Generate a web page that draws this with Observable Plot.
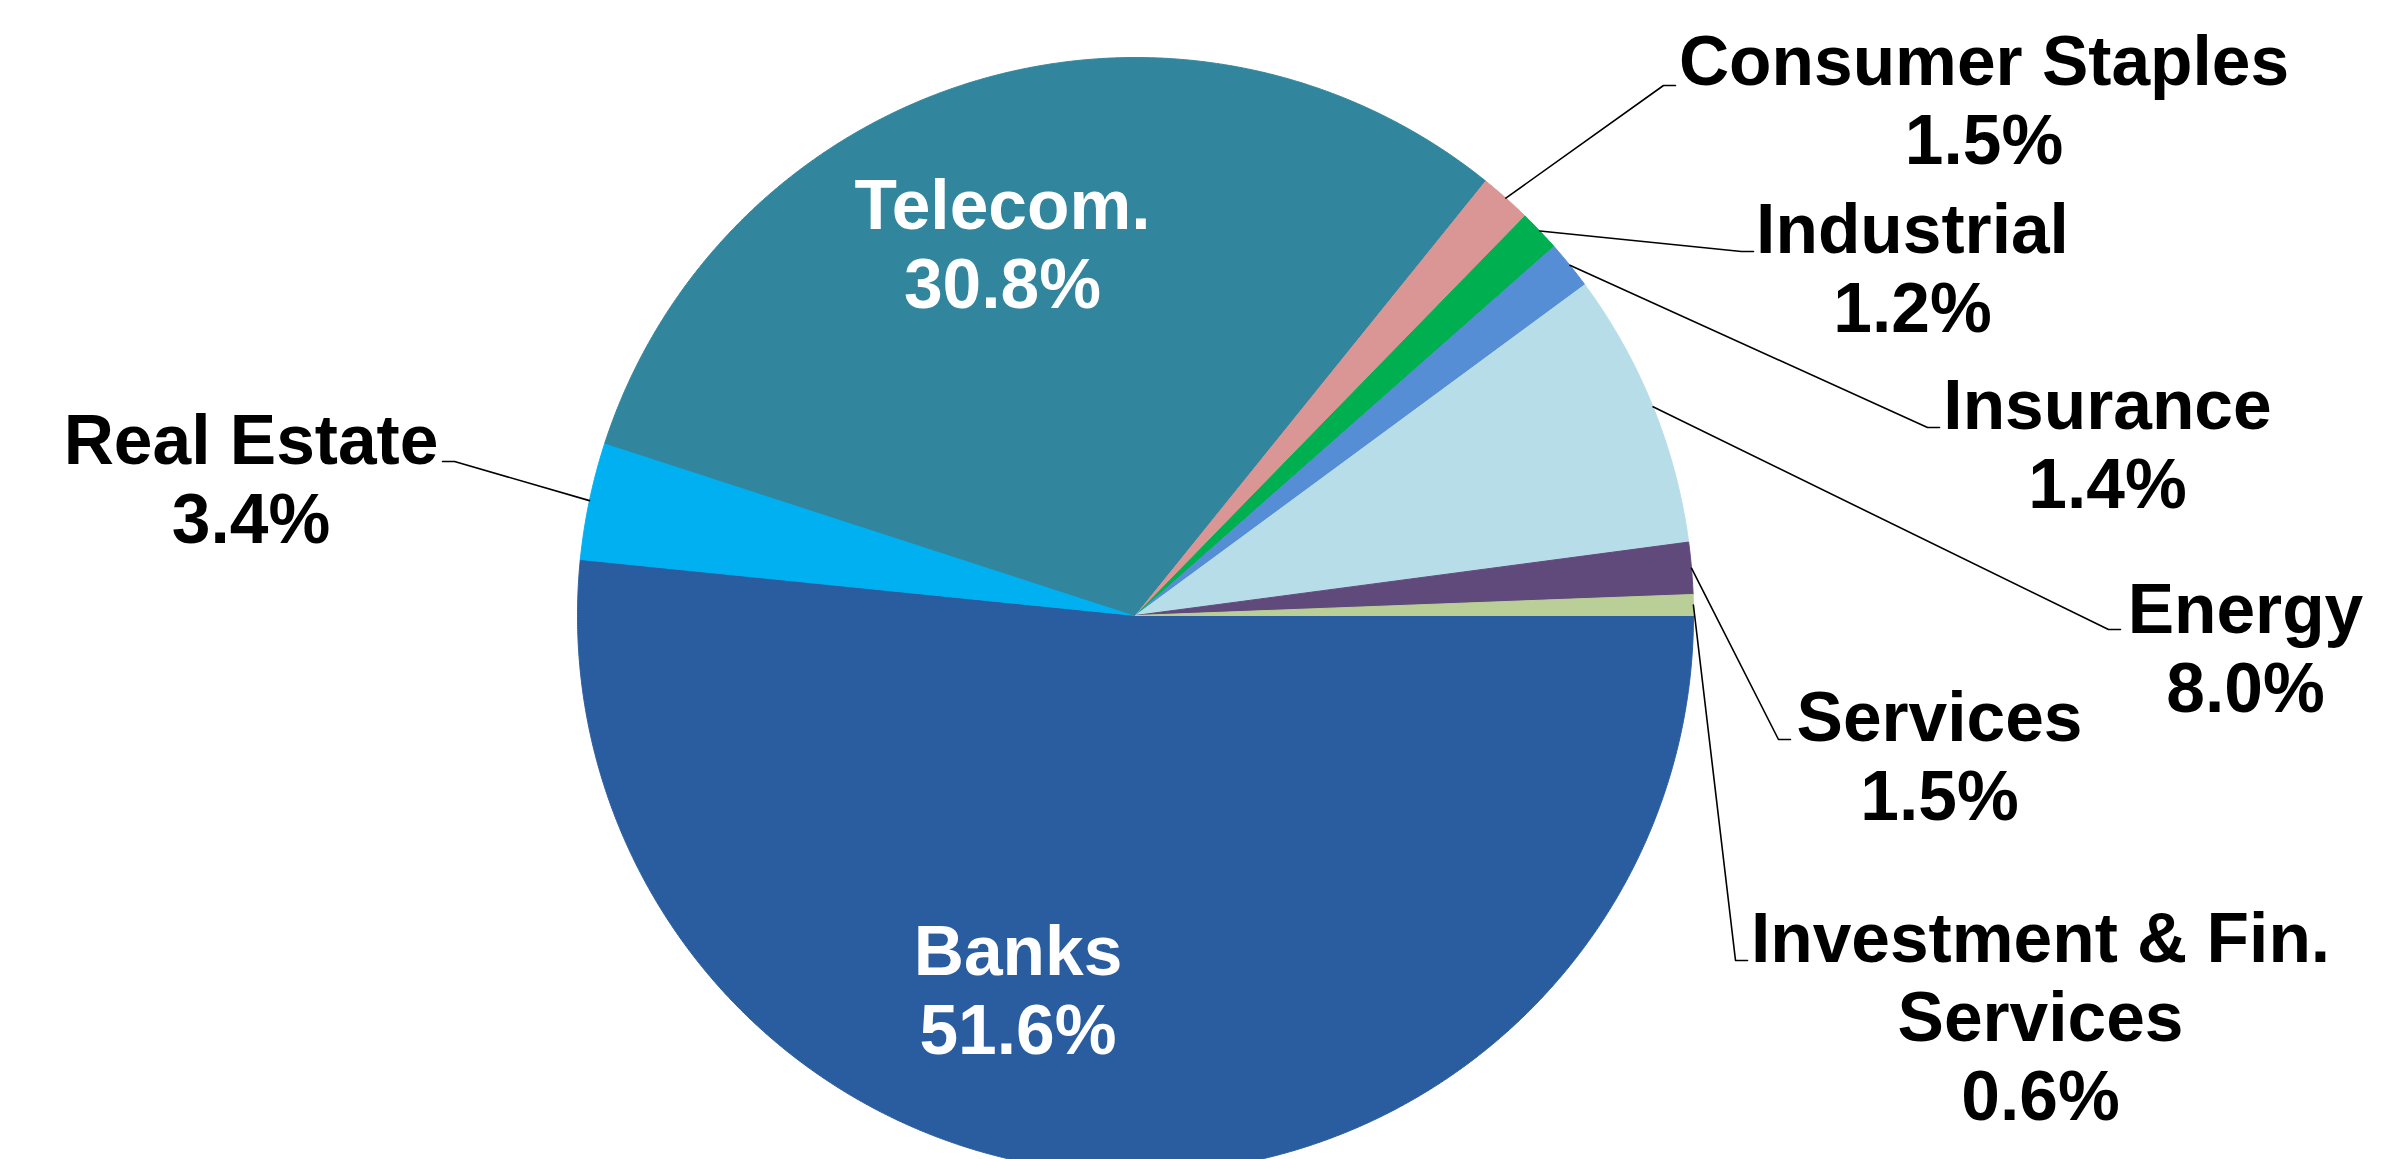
<!DOCTYPE html>
<html><head><meta charset="utf-8">
<script src="https://cdn.jsdelivr.net/npm/d3@7"></script>
<script src="https://cdn.jsdelivr.net/npm/@observablehq/plot@0.6"></script>
<style>html,body{margin:0;padding:0;background:#fff;overflow:hidden} svg{display:block}</style>
</head><body><div id="chart"></div>
<script>
// ---- data ----
const sectors = ["Banks", "Real Estate", "Telecom.", "Consumer Staples", "Industrial", "Insurance", "Energy", "Services", "Investment & Fin. Services"];
const shares = [51.6, 3.4, 30.8, 1.5, 1.2, 1.4, 8.0, 1.5, 0.6];
const labelNames = ["Banks", "Real Estate", "Telecom.", "Consumer Staples", "Industrial", "Insurance", "Energy", "Services", "Investment & Fin.\nServices"];
const sliceColors = ["#2A5D9F", "#00B0F0", "#31859C", "#D99694", "#00B050", "#558ED5", "#B7DEE8", "#604A7B", "#BACF97"];

// ---- layout (in units of pie radius, relative to pie centre) ----
const labelPos = [[-0.2106, -0.7867], [-1.5851, 0.1296], [-0.2384, 0.5502], [1.5206, 0.8090], [1.3925, 0.5072], [1.7419, 0.1935], [1.9892, -0.1729], [1.4409, -0.3665], [1.6219, -0.9050]];
const leaderEnd = [null, [-1.2419, 0.2760], null, [0.9677, 0.9498], [1.1075, 0.6523], [1.4409, 0.3369], [1.7652, -0.0251], [1.1738, -0.2222], [1.0968, -0.6183]];
const labelInside = [true, false, true, false, false, false, false, false, false];

const W = 2392, H = 1159, CX = 1135, CY = 615, R = 558;
const total = d3.sum(shares);

// slice polygons (clockwise from 3 o'clock)
const slicePts = [];
const mids = [];
let acc = 0;
shares.forEach((v, i) => {
  const a0 = acc / total * 2 * Math.PI;
  acc += v;
  const a1 = acc / total * 2 * Math.PI;
  mids.push((a0 + a1) / 2);
  slicePts.push({name: sectors[i], x: 0, y: 0});
  const n = Math.max(2, Math.ceil((a1 - a0) / 0.003));
  for (let k = 0; k <= n; k++) {
    const a = a0 + (a1 - a0) * k / n;
    slicePts.push({name: sectors[i], x: Math.cos(a), y: -Math.sin(a)});
  }
  slicePts.push({name: sectors[i], x: 0, y: 0});
});

// leader lines
const leaders = [];
sectors.forEach((s, i) => {
  const e = leaderEnd[i];
  if (!e) return;
  const m = mids[i];
  const side = e[0] >= 0 ? 1 : -1;
  leaders.push({name: s, x: Math.cos(m), y: -Math.sin(m)});
  leaders.push({name: s, x: e[0] - side * 12 / R, y: e[1]});
  leaders.push({name: s, x: e[0], y: e[1]});
});

const labels = sectors.map((s, i) => ({
  name: s,
  text: `${labelNames[i]}\n${shares[i].toFixed(1)}%`,
  x: labelPos[i][0], y: labelPos[i][1],
  inside: labelInside[i]
}));

const chart = Plot.plot({
  width: W, height: H,
  marginTop: 0, marginRight: 0, marginBottom: 0, marginLeft: 0,
  x: {domain: [-CX / R, (W - CX) / R], axis: null},
  y: {domain: [-(H - CY) / R, CY / R], axis: null},
  color: {domain: sectors, range: sliceColors},
  style: {background: "white"},
  marks: [
    Plot.line(slicePts, {x: "x", y: "y", z: "name", fill: "name", stroke: "name", strokeWidth: 1, curve: "linear"}),
    Plot.line(leaders, {x: "x", y: "y", z: "name", stroke: "black", strokeWidth: 1.6, curve: "linear"}),
    Plot.text(labels, {
      x: "x", y: "y", text: "text",
      fill: d => d.inside ? "white" : "black",
      fontSize: 69.5, fontWeight: "bold", fontFamily: "'Liberation Sans', Arial, sans-serif",
      lineAnchor: "bottom", lineHeight: 1.137, textAnchor: "middle"
    })
  ]
});
document.getElementById("chart").appendChild(chart);
</script>
</body></html>
